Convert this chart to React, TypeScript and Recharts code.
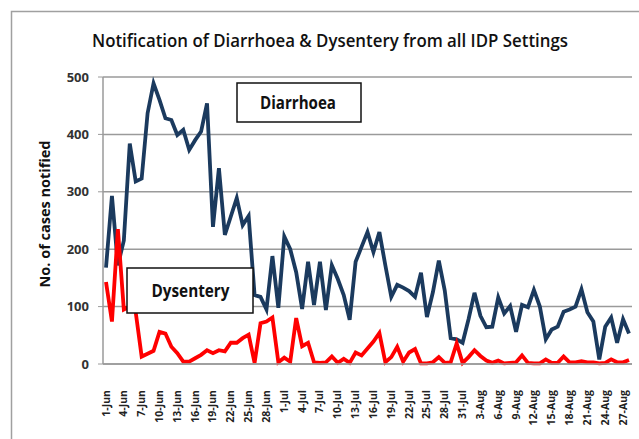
import React from "react";
import { LineChart, Line, XAxis, YAxis, CartesianGrid } from "recharts";

const months = [
  { name: "Jun", days: 30 },
  { name: "Jul", days: 31 },
  { name: "Aug", days: 28 },
];
const categories: string[] = [];
months.forEach((m) => {
  for (let d = 1; d <= m.days; d++) categories.push(`${d}-${m.name}`);
});

const diarrhoea = [
  168, 293, 172, 215, 384, 318, 323, 437, 489, 460,
  428, 425, 399, 408, 373, 390, 405, 454, 239, 341,
  225, 257, 289, 242, 258, 120, 117, 95, 188, 98,
  222, 200, 160, 96, 178, 103, 178, 94, 172, 148,
  120, 77, 178, 204, 230, 195, 230, 172, 117, 138,
  133, 127, 117, 159, 82, 125, 180, 128, 45, 43,
  37, 78, 124, 84, 64, 65, 116, 88, 101, 56,
  103, 99, 129, 100, 43, 60, 65, 91, 95, 100,
  130, 90, 74, 8, 65, 81, 37, 78, 53,
];

const dysentery = [
  143, 74, 235, 95, 100, 90, 13, 18, 23, 56,
  53, 30, 19, 4, 4, 10, 16, 24, 19, 24,
  22, 37, 37, 45, 51, 2, 71, 74, 81, 3,
  11, 4, 80, 31, 37, 3, 2, 3, 13, 2,
  9, 2, 20, 15, 27, 39, 54, 3, 12, 30,
  4, 20, 26, 1, 1, 3, 12, 2, 3, 36,
  2, 12, 24, 14, 6, 2, 6, 1, 2, 3,
  15, 2, 1, 1, 8, 2, 2, 13, 3, 3,
  5, 3, 3, 1, 2, 8, 3, 3, 7,
];

const yTicks = [0, 100, 200, 300, 400, 500];

const data = categories.map((date, i) => ({
  date,
  diarrhoea: diarrhoea[i],
  dysentery: dysentery[i],
}));

const FONT = "'Open Sans', 'Noto Sans', sans-serif";

const XTick = (props: any) => {
  const { x, y, payload } = props;
  return (
    <text
      transform={`translate(${x + 3.5},${y + 18}) rotate(-90)`}
      textAnchor="end"
      fontFamily={FONT}
      fontWeight={700}
      fontSize={10.5}
      fill="#222"
    >
      {payload.value}
    </text>
  );
};

export default function App() {
  return (
    <div style={{ position: "absolute", left: 0, top: 0, width: 639, height: 439, background: "#fff" }}>
      <LineChart
        width={639}
        height={439}
        data={data}
        margin={{ top: 77, right: 7, bottom: 0, left: 0 }}
      >
        <CartesianGrid vertical={false} stroke="#9a9a9a" strokeWidth={1.5} />
        <XAxis
          dataKey="date"
          interval={2}
          padding={{ left: 3, right: 3 }}
          tick={<XTick />}
          tickLine={false}
          axisLine={{ stroke: "#9a9a9a", strokeWidth: 1.5 }}
          height={75}
        />
        <YAxis
          width={103}
          domain={[0, 500]}
          ticks={yTicks}
          tickSize={5}
          tickMargin={9}
          tickLine={{ stroke: "#9a9a9a" }}
          axisLine={{ stroke: "#9a9a9a", strokeWidth: 1.5 }}
          tick={{ fontFamily: FONT, fontWeight: 700, fontSize: 13, fill: "#333" }}
        />
        <Line
          type="linear"
          dataKey="diarrhoea"
          stroke="#1B3A5E"
          strokeWidth={3.8}
          dot={false}
          isAnimationActive={false}
        />
        <Line
          type="linear"
          dataKey="dysentery"
          stroke="#FF0000"
          strokeWidth={3.8}
          dot={false}
          isAnimationActive={false}
        />
      </LineChart>
      <svg
        width={639}
        height={439}
        style={{ position: "absolute", left: 0, top: 0, pointerEvents: "none" }}
      >
        <rect x={11.5} y={11.5} width={700} height={500} fill="none" stroke="#a0a0a0" strokeWidth={1.5} />
        <text
          x={330}
          y={47}
          textAnchor="middle"
          fontFamily={FONT}
          fontWeight={600}
          fontSize={17.5}
          fill="#111"
          textLength={476}
          lengthAdjust="spacingAndGlyphs"
        >
          Notification of Diarrhoea &amp; Dysentery from all IDP Settings
        </text>
        <text
          transform="translate(50,214) rotate(-90)"
          textAnchor="middle"
          fontFamily={FONT}
          fontWeight={700}
          fontSize={15}
          fill="#111"
          textLength={147}
          lengthAdjust="spacingAndGlyphs"
        >
          No. of cases notified
        </text>
        <rect x={237} y={83} width={124} height={39} fill="#fff" stroke="#111" strokeWidth={1.5} />
        <text
          x={298}
          y={109}
          textAnchor="middle"
          fontFamily={FONT}
          fontWeight={700}
          fontSize={17}
          fill="#111"
          textLength={76}
          lengthAdjust="spacingAndGlyphs"
        >
          Diarrhoea
        </text>
        <rect x={127} y={268} width={126} height={45} fill="#fff" stroke="#111" strokeWidth={1.5} />
        <text
          x={190.5}
          y={296.5}
          textAnchor="middle"
          fontFamily={FONT}
          fontWeight={700}
          fontSize={17}
          fill="#111"
          textLength={78}
          lengthAdjust="spacingAndGlyphs"
        >
          Dysentery
        </text>
      </svg>
    </div>
  );
}
